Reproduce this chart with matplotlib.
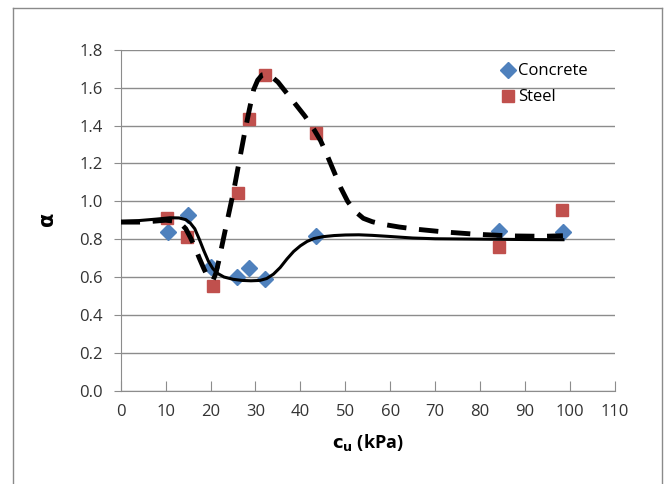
import matplotlib
matplotlib.use('Agg')
import matplotlib.pyplot as plt
from matplotlib.lines import Line2D

plt.rcParams['font.family'] = ['Open Sans', 'DejaVu Sans']

# measured adhesion factors
concrete_cu = [10.6, 15.0, 20.2, 26.0, 28.6, 32.1, 43.4, 84.2, 98.4]
concrete_alpha = [0.84, 0.93, 0.655, 0.60, 0.648, 0.587, 0.815, 0.845, 0.836]

steel_cu = [10.4, 14.7, 20.5, 26.2, 28.6, 32.1, 43.5, 84.2, 98.2]
steel_alpha = [0.912, 0.81, 0.554, 1.044, 1.436, 1.667, 1.362, 0.759, 0.952]

# trend curves
concrete_fit_cu = [0, 4, 8, 11, 13, 14.5, 15.5, 16.5, 17.5, 18.5, 19.5, 20.5, 21.5, 23, 25,
                   27, 29, 31, 32.5, 34, 35.5, 37, 38.5, 40, 41.5, 43, 45, 47.5, 50, 53, 56,
                   60, 65, 70, 80, 90, 98.4]
concrete_fit_alpha = [0.894, 0.898, 0.906, 0.913, 0.912, 0.903, 0.885, 0.855, 0.80, 0.74,
                      0.685, 0.645, 0.62, 0.60, 0.588, 0.582, 0.58, 0.582, 0.592, 0.615,
                      0.65, 0.695, 0.735, 0.765, 0.788, 0.803, 0.813, 0.819, 0.822, 0.823,
                      0.82, 0.814, 0.806, 0.802, 0.80, 0.798, 0.797]

steel_fit_cu = [0, 5, 10, 12, 13.5, 14.5, 15.5, 16.5, 17.5, 18.5, 19.3, 20.0, 20.6, 21.2,
                21.8, 22.5, 23.3, 24.2, 25.2, 26.3, 27.5, 28.6, 29.6, 30.5, 31.5, 32.5,
                33.5, 35, 37, 39, 41, 43, 44.5, 46, 47.5, 49, 50.5, 52, 54, 56, 58.5, 62,
                66, 72, 79, 87, 94, 98.4]
steel_fit_alpha = [0.89, 0.89, 0.90, 0.895, 0.88, 0.855, 0.81, 0.76, 0.70, 0.645, 0.605,
                   0.583, 0.585, 0.62, 0.68, 0.76, 0.85, 0.95, 1.06, 1.20, 1.35, 1.48,
                   1.59, 1.64, 1.668, 1.672, 1.66, 1.63, 1.57, 1.51, 1.45, 1.38, 1.32,
                   1.24, 1.155, 1.07, 1.0, 0.95, 0.91, 0.892, 0.878, 0.864, 0.852, 0.838,
                   0.826, 0.817, 0.815, 0.818]

x_ticks = list(range(0, 111, 10))
y_ticks = [0.0, 0.2, 0.4, 0.6, 0.8, 1.0, 1.2, 1.4, 1.6, 1.8]

blue = '#4F81BD'
red = '#C0504D'
grid_grey = '#8C8C8C'

fig = plt.figure(figsize=(6.7, 4.84), dpi=100)
ax = fig.add_axes([0.180, 0.193, 0.738, 0.704])

# outer chart frame (open at the bottom)
for xs, ys in [([0.019, 0.019], [0.0, 0.983]),
               ([0.019, 0.988], [0.983, 0.983]),
               ([0.988, 0.988], [0.983, 0.0])]:
    fig.add_artist(Line2D(xs, ys, transform=fig.transFigure, color='#8A8A8A', lw=1.0))

ax.plot(concrete_cu, concrete_alpha, linestyle='none', marker='D', markersize=8,
        color=blue, label='Concrete', zorder=3)
ax.plot(steel_cu, steel_alpha, linestyle='none', marker='s', markersize=9,
        color=red, label='Steel', zorder=3)

ax.plot(concrete_fit_cu, concrete_fit_alpha, color='black', lw=2.2, zorder=4,
        solid_joinstyle='round')
ax.plot(steel_fit_cu, steel_fit_alpha, color='black', lw=3.5, dashes=(4.0, 2.6), zorder=4,
        dash_capstyle='butt', dash_joinstyle='round')

ax.set_xlim(0, 110)
ax.set_ylim(0, 1.8)
ax.set_xticks(x_ticks)
ax.set_yticks(y_ticks)
ax.set_yticklabels(['{:.1f}'.format(v) for v in y_ticks])
ax.grid(axis='y', color=grid_grey, lw=1.0)
ax.set_axisbelow(True)

for side in ['top', 'right']:
    ax.spines[side].set_visible(False)
for side in ['left', 'bottom']:
    ax.spines[side].set_color(grid_grey)
ax.tick_params(axis='x', direction='in', length=7, color=grid_grey, labelsize=12,
               pad=10, labelcolor='#333333')
ax.tick_params(axis='y', direction='out', length=5, color=grid_grey, labelsize=12,
               pad=8, labelcolor='#333333')

ax.set_xlabel(r'$\mathbf{c_u}$ (kPa)', fontsize=13, fontweight='bold', labelpad=8)
ax.set_ylabel(r'$\mathbf{\alpha}$', fontsize=15, rotation=90, labelpad=14)

ax.legend(loc='upper left', bbox_to_anchor=(0.76, 0.98), frameon=False, fontsize=12,
          handlelength=0.6, handletextpad=0.3, labelspacing=0.6, borderaxespad=0)

fig.savefig('out.png', dpi=100)
